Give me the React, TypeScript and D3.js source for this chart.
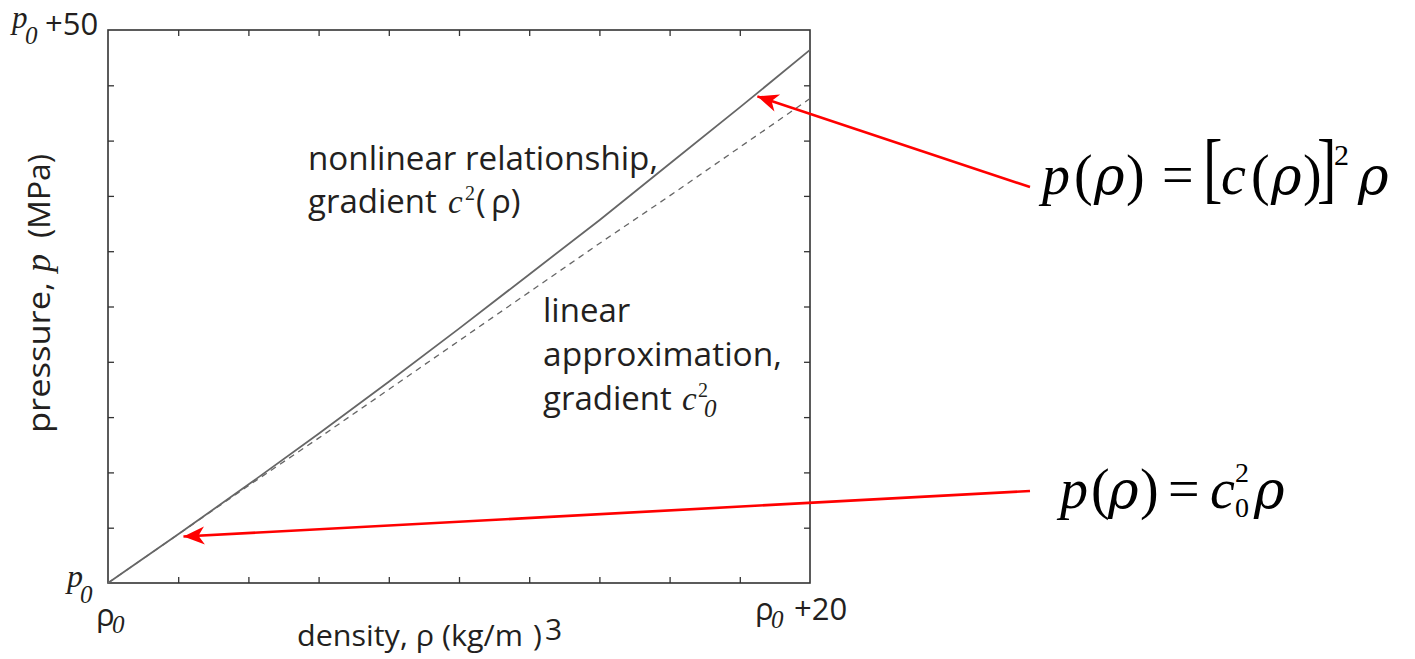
import React, { useRef, useEffect } from "react";
import { select, scaleLinear, line, axisBottom, axisTop, axisLeft, axisRight } from "d3";

// values (density offset from rho0, pressure offset from p0)
const density = [0, 2, 4, 6, 8, 10, 12, 14, 16, 18, 20];
const pressureNonlinear = [0, 4.4, 8.9, 13.5, 18.2, 23.0, 27.9, 32.8, 37.9, 43.0, 48.2];
const pressureLinear = [0, 4.4, 8.8, 13.1, 17.5, 21.9, 26.3, 30.7, 35.0, 39.4, 43.8];
const densityTicks = [0, 2, 4, 6, 8, 10, 12, 14, 16, 18, 20];
const pressureTicks = [0, 5, 10, 15, 20, 25, 30, 35, 40, 45, 50];

// where the red arrows point (data coords) and where they start (px, next to the formulas)
const arrowTargets = [
  { rho: 18.5, p: 44.0 },
  { rho: 2.15, p: 4.2 },
];
const arrowTails = [
  [1030, 187],
  [1030, 491],
];

const W = 1415;
const H = 659;
const sans = "'Open Sans', sans-serif";
const serif = "'Liberation Serif', 'Times New Roman', serif";
const greek = "'DejaVu Serif', serif";
const ink = "#231f20";

export default function App() {
  const axesRef = useRef(null);

  const x = scaleLinear().domain([0, 20]).range([108, 810]);
  const y = scaleLinear().domain([0, 50]).range([583, 30]);

  const nonlin = density.map((d, i) => [x(d), y(pressureNonlinear[i])]);
  const lin = density.map((d, i) => [x(d), y(pressureLinear[i])]);
  const path = line();

  useEffect(() => {
    const g = select(axesRef.current);
    g.selectAll("*").remove();
    const style = (sel) => {
      sel.select(".domain").remove();
      sel.selectAll("text").remove();
      sel.selectAll("line").attr("stroke", "#333").attr("stroke-width", 1.3);
    };
    // ticks point inward on all four sides
    g.append("g").attr("transform", `translate(0,${y(0)})`)
      .call(axisBottom(x).tickValues(densityTicks.slice(1, -1)).tickSize(-6)).call(style);
    g.append("g").attr("transform", `translate(0,${y(50)})`)
      .call(axisTop(x).tickValues(densityTicks.slice(1, -1)).tickSize(-6)).call(style);
    g.append("g").attr("transform", `translate(${x(0)},0)`)
      .call(axisLeft(y).tickValues(pressureTicks.slice(1, -1)).tickSize(-6)).call(style);
    g.append("g").attr("transform", `translate(${x(20)},0)`)
      .call(axisRight(y).tickValues(pressureTicks.slice(1, -1)).tickSize(-6)).call(style);
  }, []);

  return (
    <svg width={W} height={H} style={{ position: "absolute", left: 0, top: 0, background: "#fff" }}>
      <defs>
        <marker id="head" viewBox="-22 -10 24 20" markerWidth={24} markerHeight={20}
          refX={0} refY={0} orient="auto" markerUnits="userSpaceOnUse">
          <path d="M0,0 L-21,-9 L-15,0 L-21,9 Z" fill="#ff0000" />
        </marker>
      </defs>

      <rect x={x(0)} y={y(50)} width={x(20) - x(0)} height={y(0) - y(50)}
        fill="none" stroke="#333" strokeWidth={1.6} />
      <g ref={axesRef} />

      <path d={path(lin)} fill="none" stroke="#666" strokeWidth={1.3} strokeDasharray="6 5" />
      <path d={path(nonlin)} fill="none" stroke="#666" strokeWidth={1.8} />

      {/* corner labels */}
      <text fill={ink}>
        <tspan x={12} y={28} fontFamily={serif} fontStyle="italic" fontSize={31}>p</tspan>
        <tspan x={25} y={44} fontFamily={serif} fontStyle="italic" fontSize={25}>0</tspan>
        <tspan x={45} y={35} fontFamily={sans} fontSize={31}>+50</tspan>
      </text>
      <text fill={ink}>
        <tspan x={67} y={587} fontFamily={serif} fontStyle="italic" fontSize={32}>p</tspan>
        <tspan x={80} y={603} fontFamily={serif} fontStyle="italic" fontSize={25}>0</tspan>
      </text>
      <text fill={ink}>
        <tspan x={96} y={626} fontFamily={sans} fontSize={31}>ρ</tspan>
        <tspan x={112} y={633} fontFamily={serif} fontStyle="italic" fontSize={25}>0</tspan>
      </text>
      <text fill={ink}>
        <tspan x={755} y={620} fontFamily={sans} fontSize={31}>ρ</tspan>
        <tspan x={771} y={628} fontFamily={serif} fontStyle="italic" fontSize={25}>0</tspan>
        <tspan x={794} y={620} fontFamily={sans} fontSize={31}>+20</tspan>
      </text>

      {/* axis titles */}
      <text fill={ink} fontFamily={sans} fontSize={30}>
        <tspan x={297} y={646} textLength={226} lengthAdjust="spacingAndGlyphs">density, ρ  (kg/m</tspan>
        <tspan x={533} y={646}>)</tspan>
        <tspan x={545} y={640}>3</tspan>
      </text>
      <text fill={ink} fontFamily={sans} fontSize={31} transform="translate(50,433) rotate(-90)">
        <tspan x={0} y={0} textLength={151} lengthAdjust="spacingAndGlyphs">pressure,</tspan>
        <tspan x={161} fontFamily={serif} fontStyle="italic" fontSize={36}>p</tspan>
        <tspan x={195} textLength={84} lengthAdjust="spacingAndGlyphs">(MPa)</tspan>
      </text>

      {/* annotations */}
      <text fill={ink} fontFamily={sans} fontSize={33}>
        <tspan x={308} y={170} textLength={350} lengthAdjust="spacingAndGlyphs">nonlinear relationship,</tspan>
        <tspan x={308} y={213}>gradient</tspan>
        <tspan x={448} fontFamily={serif} fontStyle="italic">c</tspan>
        <tspan x={465} fontFamily={serif} fontSize={20} dy={-13}>2</tspan>
        <tspan x={476} dy={13}>(</tspan>
        <tspan x={491}>ρ)</tspan>
      </text>
      <text fill={ink} fontFamily={sans} fontSize={33}>
        <tspan x={543} y={322}>linear</tspan>
        <tspan x={543} y={366} textLength={239} lengthAdjust="spacingAndGlyphs">approximation,</tspan>
        <tspan x={543} y={410}>gradient</tspan>
        <tspan x={682} fontFamily={serif} fontStyle="italic">c</tspan>
        <tspan x={698} fontFamily={serif} fontSize={20} dy={-13}>2</tspan>
        <tspan x={704} fontFamily={serif} fontStyle="italic" fontSize={25} dy={20}>0</tspan>
      </text>

      {/* red arrows */}
      {arrowTargets.map((t, i) => (
        <line key={i} x1={arrowTails[i][0]} y1={arrowTails[i][1]} x2={x(t.rho)} y2={y(t.p)}
          stroke="#ff0000" strokeWidth={2.6} markerEnd="url(#head)" />
      ))}

      {/* equations */}
      <text fill="#000" fontFamily={serif} fontSize={56}>
        <tspan x={1042} y={194} fontStyle="italic">p</tspan>
        <tspan x={1074}>(</tspan>
        <tspan x={1094} fontFamily={greek} fontStyle="italic" fontSize={52}>ρ</tspan>
        <tspan x={1126}>)</tspan>
        <tspan x={1162}>=</tspan>
        <tspan x={1221} fontStyle="italic">c</tspan>
        <tspan x={1251}>(</tspan>
        <tspan x={1271} fontFamily={greek} fontStyle="italic" fontSize={52}>ρ</tspan>
        <tspan x={1303}>)</tspan>
        <tspan x={1334} y={165} fontSize={30}>2</tspan>
        <tspan x={1358} y={194} fontFamily={greek} fontStyle="italic" fontSize={52}>ρ</tspan>
      </text>
      <text fill="#000" fontFamily={serif} fontSize={78} transform="translate(1203,194) scale(0.75,1)">[</text>
      <text fill="#000" fontFamily={serif} fontSize={78} transform="translate(1317,194) scale(0.75,1)">]</text>
      <text fill="#000" fontFamily={serif} fontSize={56}>
        <tspan x={1060} y={508} fontStyle="italic">p</tspan>
        <tspan x={1091}>(</tspan>
        <tspan x={1108} fontFamily={greek} fontStyle="italic" fontSize={52}>ρ</tspan>
        <tspan x={1140}>)</tspan>
        <tspan x={1168}>=</tspan>
        <tspan x={1210} fontStyle="italic">c</tspan>
        <tspan x={1235} y={482} fontSize={28}>2</tspan>
        <tspan x={1235} y={517} fontSize={28}>0</tspan>
        <tspan x={1254} y={508} fontFamily={greek} fontStyle="italic" fontSize={52}>ρ</tspan>
      </text>
    </svg>
  );
}
